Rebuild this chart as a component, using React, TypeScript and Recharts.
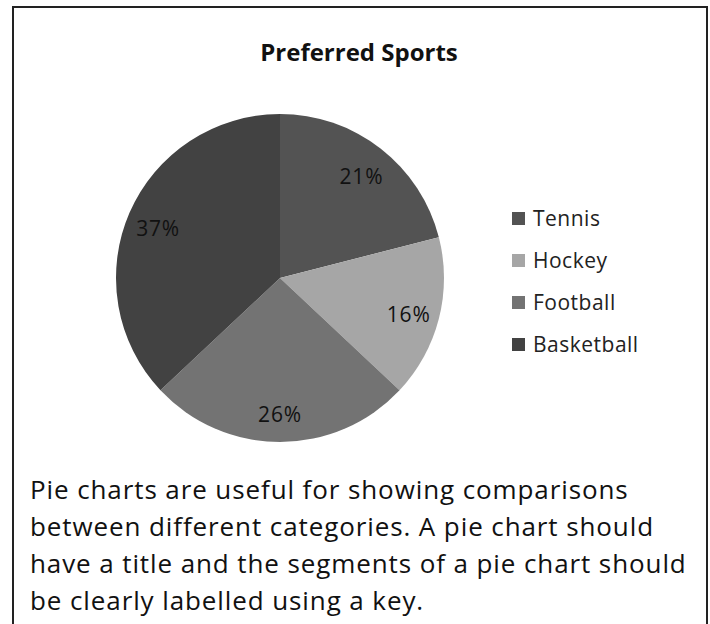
import { PieChart, Pie, Cell, Legend } from 'recharts';

const sports = ['Tennis', 'Hockey', 'Football', 'Basketball'];
const shares = [21, 16, 26, 37];
const shades = ['#535353', '#a6a6a6', '#737373', '#424242'];

const paragraphLines = [
  'Pie charts are useful for showing comparisons',
  'between different categories. A pie chart should',
  'have a title and the segments of a pie chart should',
  'be clearly labelled using a key.',
];

const data = sports.map((name, i) => ({ name, value: shares[i] }));

const RADIAN = Math.PI / 180;

const renderLabel = (props: any) => {
  const { cx, cy, midAngle, outerRadius, value } = props;
  const r = outerRadius * 0.81;
  const x = cx + r * Math.cos(-midAngle * RADIAN);
  const y = cy + r * Math.sin(-midAngle * RADIAN) + 3;
  return (
    <text x={x} y={y} textAnchor="middle" dominantBaseline="central" fill="#111" fontSize={21} letterSpacing={0.8} fontFamily="Open Sans">
      {value}%
    </text>
  );
};

const renderLegend = (props: any) => {
  const payload = [...props.payload].sort((a: any, b: any) => sports.indexOf(a.value) - sports.indexOf(b.value));
  return (
    <div style={{ fontFamily: 'Open Sans', fontSize: 21, letterSpacing: 0.5, color: '#222' }}>
      {payload.map((entry: any) => (
        <div key={entry.value} style={{ display: 'flex', alignItems: 'center', height: 42 }}>
          <span style={{ width: 13, height: 13, background: entry.color, marginRight: 8, display: 'inline-block' }} />
          <span>{entry.value}</span>
        </div>
      ))}
    </div>
  );
};

export default function App() {
  return (
    <div style={{ position: 'absolute', left: 0, top: 0, width: 710, height: 624, background: '#fff', overflow: 'hidden' }}>
      <div
        style={{
          position: 'absolute',
          left: 12,
          top: 6,
          width: 692,
          height: 630,
          borderTop: '2px solid #222',
          borderLeft: '2px solid #222',
          borderRight: '2px solid #222',
        }}
      />
      <div
        style={{
          position: 'absolute',
          left: 0,
          top: 35,
          width: 718,
          textAlign: 'center',
          fontFamily: 'Open Sans',
          fontWeight: 700,
          fontSize: 24,
          color: '#111',
        }}
      >
        Preferred Sports
      </div>
      <div style={{ position: 'absolute', left: 0, top: 0 }}>
        <PieChart width={710} height={460} margin={{ top: 0, right: 0, bottom: 0, left: 0 }}>
          <Pie
            data={data}
            dataKey="value"
            nameKey="name"
            cx={280}
            cy={278}
            outerRadius={164}
            startAngle={90}
            endAngle={-270}
            stroke="none"
            label={renderLabel}
            labelLine={false}
            isAnimationActive={false}
          >
            {data.map((d, i) => (
              <Cell key={d.name} fill={shades[i]} />
            ))}
          </Pie>
          <Legend
            layout="vertical"
            itemSorter={null}
            content={renderLegend}
            wrapperStyle={{ left: 512, top: 197, width: 180 }}
          />
        </PieChart>
      </div>
      <div
        style={{
          position: 'absolute',
          left: 30,
          top: 471,
          width: 680,
          fontFamily: 'Open Sans',
          fontSize: 26,
          letterSpacing: 0.9,
          lineHeight: '37px',
          color: '#111',
          whiteSpace: 'nowrap',
        }}
      >
        {paragraphLines.map((line) => (
          <div key={line}>{line}</div>
        ))}
      </div>
    </div>
  );
}
